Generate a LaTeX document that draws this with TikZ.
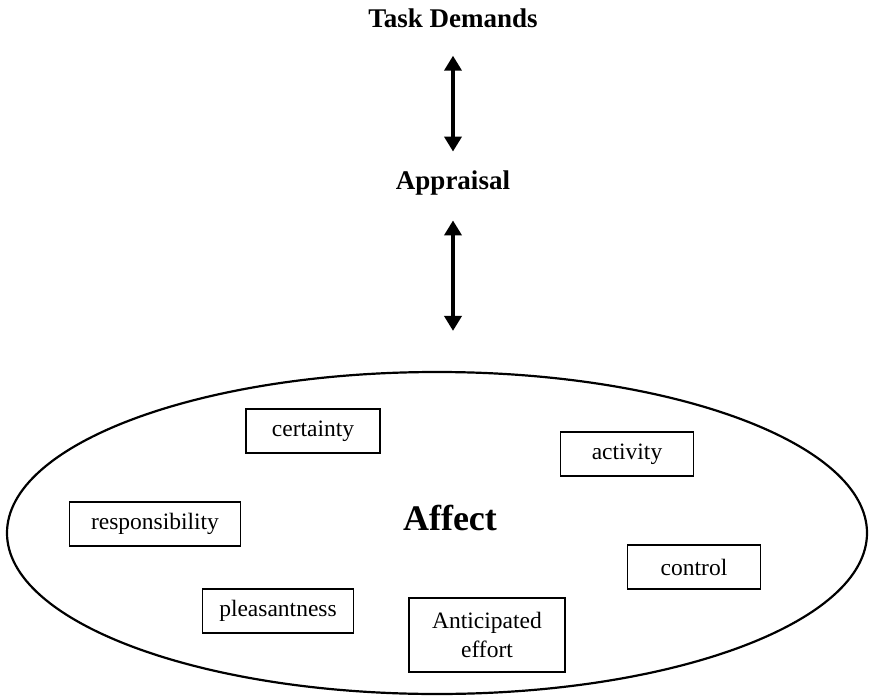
\documentclass[tikz,border=0pt]{standalone}
\usepackage{fontspec}
\setmainfont{Liberation Serif}
\usetikzlibrary{shapes.geometric}
\usetikzlibrary{arrows.meta}

\begin{document}
\begin{tikzpicture}[x=1pt,y=1pt,
    title/.style={font=\fontsize{27}{32}\selectfont\bfseries, inner sep=0pt},
    item/.style={draw, line width=1.4pt, font=\fontsize{23.5}{29}\selectfont, minimum height=44pt, inner sep=0pt, align=center},
    link/.style={line width=4pt, {Triangle[width=17pt,length=15pt]}-{Triangle[width=17pt,length=15pt]}}]
    \useasboundingbox (0,0) rectangle (870,-698);

    % Top chain
    \node[title] (taskdem) at (453,-18) {Task Demands};
    \node[title] (apprais) at (453,-183) {Appraisal};

    % Affect region
    \node[draw, ellipse, line width=2.2pt, minimum width=860pt, minimum height=322pt, inner sep=0pt] (affzone) at (437,-533) {};
    \coordinate (affentry) at (apprais |- affzone.north);
    \node[font=\fontsize{36}{40}\selectfont\bfseries, inner sep=0pt] (affect) at (450,-518) {Affect};

    % Appraisal dimensions
    \node[item, minimum width=134pt] (certain) at (313,-431) {certainty};
    \node[item, minimum width=133pt] (activ) at (627,-454) {activity};
    \node[item, minimum width=171pt] (respons) at (155,-524) {responsibility};
    \node[item, minimum width=133pt] (control) at (694,-567) {control};
    \node[item, minimum width=151pt] (pleasant) at (278,-611) {pleasantness};
    \node[item, minimum width=156pt, minimum height=74pt] (anteff) at (487,-635) {Anticipated\\effort};

    % Two-way links
    \draw[link, shorten <=28pt, shorten >=19pt] (taskdem) -- (apprais);
    \draw[link, shorten <=25pt, shorten >=40pt] (apprais) -- (affentry);
\end{tikzpicture}
\end{document}
